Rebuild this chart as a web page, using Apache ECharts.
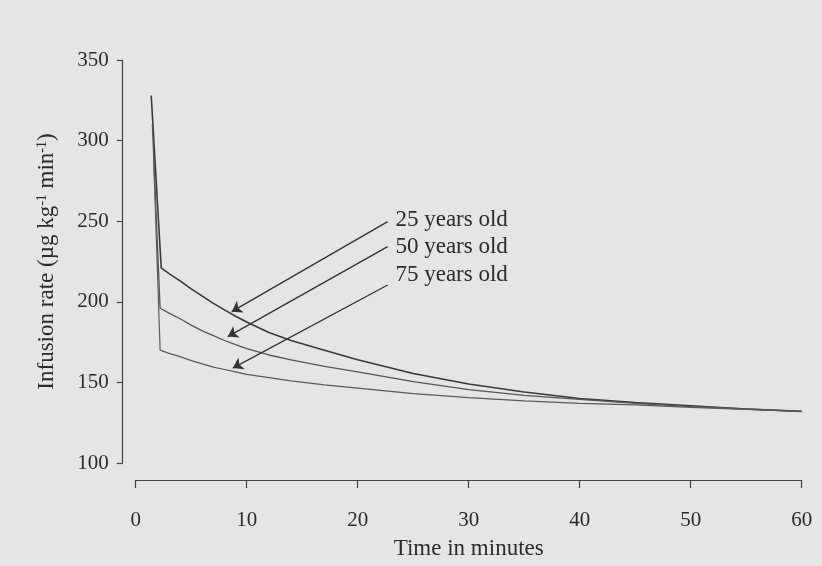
<!DOCTYPE html>
<html>
<head>
<meta charset="utf-8">
<script src="https://cdn.jsdelivr.net/npm/echarts@6/dist/echarts.min.js"></script>
<style>
html,body{margin:0;padding:0;background:#e4e5e5;}
#chart{width:822px;height:566px;}
</style>
</head>
<body>
<div id="chart"></div>
<script>
// Time (minutes) and infusion rate readings for each age group
var time25 = [1.4, 2.3, 3, 4, 5, 6, 7, 8, 9, 10, 12, 14, 17, 20, 25, 30, 35, 40, 45, 50, 55, 60];
var rate25 = [328, 221, 217.5, 213, 208, 203.5, 199, 195, 191, 187.5, 181, 176, 170, 164, 155.5, 149, 144, 140, 137.5, 135.5, 133.5, 132];
var time50 = [1.5, 2.2, 3, 4, 5, 6, 7, 8, 9, 10, 12, 14, 17, 20, 25, 30, 35, 40, 45, 50, 55, 60];
var rate50 = [310, 196, 193, 189.5, 185.5, 182, 179, 176, 173.5, 171, 167, 164, 160, 156.5, 150.5, 145.5, 142, 139.5, 137, 135, 133.5, 132];
var time75 = [1.6, 2.2, 3, 4, 5, 6, 7, 8, 9, 10, 12, 14, 17, 20, 25, 30, 35, 40, 45, 50, 55, 60];
var rate75 = [292, 170, 168, 166, 163.5, 161.5, 159.5, 158, 156.5, 155, 153, 151, 148.5, 146.5, 143, 140.5, 138.5, 137, 136, 134.5, 133.3, 132];
var seriesNames = ['25 years old', '50 years old', '75 years old'];
// Annotation anchors (data coords): label position, arrow start, arrow end
var labelPos = [[23.4, 250.8], [23.4, 233.8], [23.4, 216.8]];
var arrowStart = [[22.7, 249.7], [22.7, 234.2], [22.7, 210.4]];
var arrowEnd = [[8.65, 193.9], [8.3, 178.4], [8.75, 158.9]];
var xTicks = [0, 10, 20, 30, 40, 50, 60];
var yTicks = [100, 150, 200, 250, 300, 350];

function pairs(t, v) { return t.map(function (x, i) { return [x, v[i]]; }); }

var FONT = '"Liberation Serif","Times New Roman",serif';
var TXT = '#2b2b2b';
var times = [time25, time50, time75];
var rates = [rate25, rate50, rate75];
var lineColors = ['#3a3a3a', '#555555', '#5a5a5a'];
var lineWidths = [1.6, 1.3, 1.2];

var series = seriesNames.map(function (name, i) {
  return {
    name: name,
    type: 'line',
    data: pairs(times[i], rates[i]),
    showSymbol: false,
    symbol: 'none',
    lineStyle: { color: lineColors[i], width: lineWidths[i] },
    silent: true,
    markLine: {
      silent: true,
      symbol: ['none', 'arrow'],
      symbolSize: 10,
      label: { show: false },
      lineStyle: { color: '#333', width: 1.3, type: 'solid' },
      data: [[{ coord: arrowStart[i] }, { coord: arrowEnd[i] }]]
    },
    markPoint: {
      silent: true,
      symbol: 'circle',
      symbolSize: 0,
      label: {
        show: true,
        position: 'right',
        distance: 0,
        formatter: name,
        fontFamily: FONT,
        fontSize: 23,
        color: TXT
      },
      data: [{ coord: labelPos[i] }]
    }
  };
});

var chart = echarts.init(document.getElementById('chart'));
chart.setOption({
  backgroundColor: '#e4e5e5',
  animation: false,
  grid: { left: 135.7, right: 20.3, top: 60, bottom: 103 },
  xAxis: {
    type: 'value',
    min: xTicks[0], max: xTicks[xTicks.length - 1], interval: 10,
    offset: 17,
    name: 'Time in minutes',
    nameLocation: 'middle',
    nameGap: 57,
    nameTextStyle: { fontFamily: FONT, fontSize: 23, color: TXT },
    axisLine: { show: true, onZero: false, lineStyle: { color: '#444', width: 1.2 } },
    axisTick: { show: true, length: 8, inside: false, lineStyle: { color: '#444', width: 1.2 } },
    axisLabel: { margin: 30, fontFamily: FONT, fontSize: 21, color: TXT },
    splitLine: { show: false }
  },
  yAxis: {
    type: 'value',
    min: yTicks[0], max: yTicks[yTicks.length - 1], interval: 50,
    offset: 13,
    name: 'Infusion rate (µg kg{sup|-1} min{sup|-1})',
    nameLocation: 'middle',
    nameGap: 64,
    nameRotate: 90,
    nameTextStyle: {
      fontFamily: FONT, fontSize: 23, color: TXT,
      rich: {
        sup: { fontFamily: FONT, fontSize: 14, color: TXT, verticalAlign: 'top', lineHeight: 23 }
      }
    },
    axisLine: { show: true, onZero: false, lineStyle: { color: '#444', width: 1.2 } },
    axisTick: { show: true, length: 6, inside: false, lineStyle: { color: '#444', width: 1.2 } },
    axisLabel: { margin: 14, fontFamily: FONT, fontSize: 21, color: TXT },
    splitLine: { show: false }
  },
  series: series
});
</script>
</body>
</html>
